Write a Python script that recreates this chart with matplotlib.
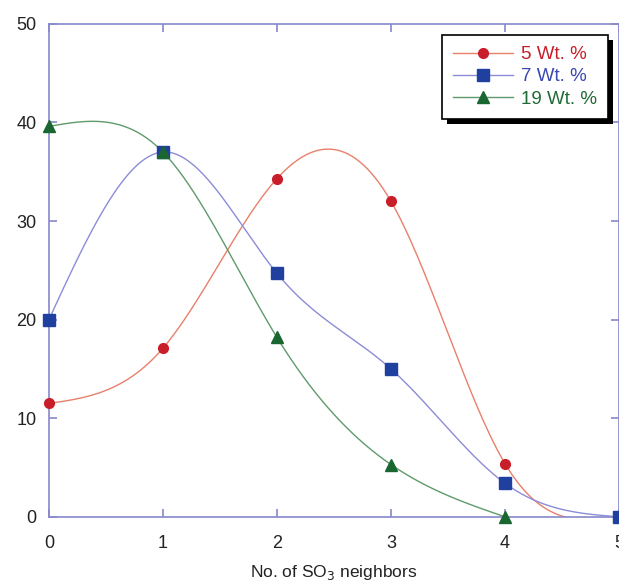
import numpy as np
import matplotlib.pyplot as plt
from matplotlib.patches import Rectangle

plt.rcParams['font.family'] = ['Liberation Sans', 'DejaVu Sans']

x_vals = [0, 1, 2, 3, 4, 5]
wt5 = [11.5, 17.1, 34.3, 32.0, 5.4, 0.0]
wt7 = [20.0, 37.0, 24.7, 15.0, 3.4, 0.0]
x19 = [0, 1, 2, 3, 4]
wt19 = [39.6, 37.0, 18.2, 5.3, 0.0]
labels = ["5 Wt. %", "7 Wt. %", "19 Wt. %"]


def natural_spline(x, y, n=300):
    # plain natural cubic spline through the data points
    x = np.asarray(x, float)
    y = np.asarray(y, float)
    k = len(x)
    h = np.diff(x)
    A = np.zeros((k, k))
    b = np.zeros(k)
    A[0, 0] = A[-1, -1] = 1
    for i in range(1, k - 1):
        A[i, i - 1] = h[i - 1]
        A[i, i] = 2 * (h[i - 1] + h[i])
        A[i, i + 1] = h[i]
        b[i] = 6 * ((y[i + 1] - y[i]) / h[i] - (y[i] - y[i - 1]) / h[i - 1])
    M = np.linalg.solve(A, b)
    xs = np.linspace(x[0], x[-1], n)
    idx = np.clip(np.searchsorted(x, xs) - 1, 0, k - 2)
    x0, x1 = x[idx], x[idx + 1]
    hh = x1 - x0
    t0, t1 = x1 - xs, xs - x0
    ys = (M[idx] * t0 ** 3 + M[idx + 1] * t1 ** 3) / (6 * hh) \
        + (y[idx] / hh - M[idx] * hh / 6) * t0 \
        + (y[idx + 1] / hh - M[idx + 1] * hh / 6) * t1
    return xs, ys


series = [
    (x_vals, wt5, '#e8806a', '#c81e2a', 'o', 7, '#c81e2a'),
    (x_vals, wt7, '#8c8cd8', '#2040a0', 's', 8, '#3a48b0'),
    (x19, wt19, '#5f9a6c', '#1a6630', '^', 8, '#1f6a35'),
]

fig = plt.figure(figsize=(6.19, 5.82), dpi=100)
ax = fig.add_axes([0.079, 0.112, 0.921, 0.847])

handles = []
for xd, yd, lc, mc, mk, ms, tc in series:
    xs, ys = natural_spline(xd, yd)
    ax.plot(xs, ys, color=lc, lw=1.0, zorder=2)
    ax.plot(xd, yd, linestyle='none', marker=mk, ms=ms, color=mc,
            markeredgecolor=mc, zorder=3, clip_on=False)
    h, = ax.plot([], [], color=lc, lw=1.0, marker=mk, ms=ms, mfc=mc, mec=mc)
    handles.append(h)

ax.set_xlim(0, 5)
ax.set_ylim(0, 50)
ax.set_xticks(range(6))
ax.set_yticks(range(0, 51, 10))
spine_c = '#8888cc'
for s in ax.spines.values():
    s.set_color(spine_c)
    s.set_linewidth(1.2)
ax.tick_params(direction='in', length=6, width=1.2, color=spine_c,
               top=True, right=True, labelsize=13, labelcolor='#222222')
ax.tick_params(axis='x', pad=13)
ax.tick_params(axis='y', pad=9)
ax.set_xlabel("No. of SO$_3$ neighbors", fontsize=12.5, color='#222222', labelpad=8)

leg = ax.legend(handles, labels, loc='upper right', bbox_to_anchor=(0.981, 0.978),
                borderaxespad=0, fontsize=13.5, frameon=True, fancybox=False,
                framealpha=1, facecolor='white',
                handlelength=3.2, borderpad=0.6, labelspacing=0.28,
                handletextpad=0.4)
leg.get_frame().set_edgecolor('black')
leg.get_frame().set_linewidth(1.2)
leg.set_zorder(6)
for txt, (_, _, _, _, _, _, tc) in zip(leg.get_texts(), series):
    txt.set_color(tc)

# drop shadow behind the legend box
fig.canvas.draw()
bb = leg.get_window_extent().transformed(ax.transAxes.inverted())
off_x, off_y = 5 / 570, 5 / 493
ax.add_patch(Rectangle((bb.x0 + off_x, bb.y0 - off_y), bb.width, bb.height,
                       transform=ax.transAxes, facecolor='black',
                       edgecolor='none', zorder=5, clip_on=False))

fig.savefig("out.png", dpi=100)
